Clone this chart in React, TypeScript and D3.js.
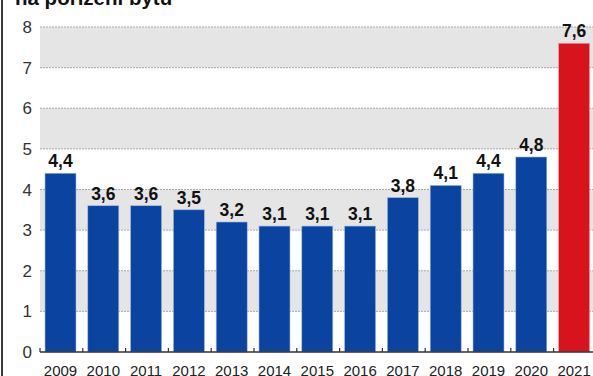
import React from "react";
import * as d3 from "d3";

const years = ["2009","2010","2011","2012","2013","2014","2015","2016","2017","2018","2019","2020","2021"];
const values = [4.4, 3.6, 3.6, 3.5, 3.2, 3.1, 3.1, 3.1, 3.8, 4.1, 4.4, 4.8, 7.6];
const valueLabels = ["4,4","3,6","3,6","3,5","3,2","3,1","3,1","3,1","3,8","4,1","4,4","4,8","7,6"];
const yTicks = [0, 1, 2, 3, 4, 5, 6, 7, 8];
const titleText = "na pořízení bytu";
const highlightYear = "2021";

const W = 593, H = 376;
const FONT = "'Liberation Sans', Arial, Helvetica, sans-serif";

export default function App() {
  const x = d3.scaleBand<string>().domain(years).range([39.1, 595.5]).paddingInner(0.276).paddingOuter(0.138);
  const y = d3.scaleLinear().domain([0, 8]).range([352, 27]);
  const step = x.step();
  const x0 = 40;
  const boundaries = d3.range(years.length + 1).map((i) => x0 + i * step);
  const bands = [[1, 2], [3, 4], [5, 6], [7, 8]];

  return (
    <svg width={W} height={H} style={{ position: "fixed", left: 0, top: 0, background: "#fff" }} fontFamily={FONT}>
      <rect x={0} y={0} width={W} height={H} fill="#fff" />
      <rect x={1} y={0} width={2} height={H} fill="#3a3a3a" />
      <text x={15} y={5} fontSize={20.5} fontWeight="bold" fill="#111">{titleText}</text>
      {bands.map(([a, b]) => (
        <rect key={a} x={x0} y={y(b)} width={W - x0} height={y(a) - y(b)} fill="#e5e5e5" />
      ))}
      {yTicks.filter((t) => t > 0).map((t) => (
        <line key={t} x1={x0} x2={W} y1={y(t)} y2={y(t)} stroke="#a9a9a9" strokeWidth={1} strokeDasharray="2,1" />
      ))}
      {yTicks.map((t) => (
        <text key={t} x={32} y={y(t)} dy="0.36em" textAnchor="end" fontSize={17} fill="#333">{t}</text>
      ))}
      {years.map((yr, i) => (
        <rect key={yr} x={x(yr)} y={y(values[i])} width={x.bandwidth()} height={y(0) - y(values[i])}
          fill={yr === highlightYear ? "#d7141e" : "#0a43a0"} stroke={yr === highlightYear ? "#f4a0a0" : "#9fb6e0"} strokeWidth={0.6} />
      ))}
      {years.map((yr, i) => (
        <text key={yr} x={(x(yr) as number) + x.bandwidth() / 2} y={y(values[i]) - 6} textAnchor="middle"
          fontSize={17.5} fontWeight="bold" fill="#111">{valueLabels[i]}</text>
      ))}
      <line x1={x0} x2={W} y1={y(0)} y2={y(0)} stroke="#333" strokeWidth={1.5} />
      {boundaries.map((bx, i) => (
        <line key={i} x1={bx} x2={bx} y1={y(0)} y2={y(0) - 4} stroke="#333" strokeWidth={1.2} />
      ))}
      {years.map((yr) => (
        <text key={yr} x={(x(yr) as number) + x.bandwidth() / 2} y={376} textAnchor="middle" fontSize={15} fill="#222">{yr}</text>
      ))}
    </svg>
  );
}
